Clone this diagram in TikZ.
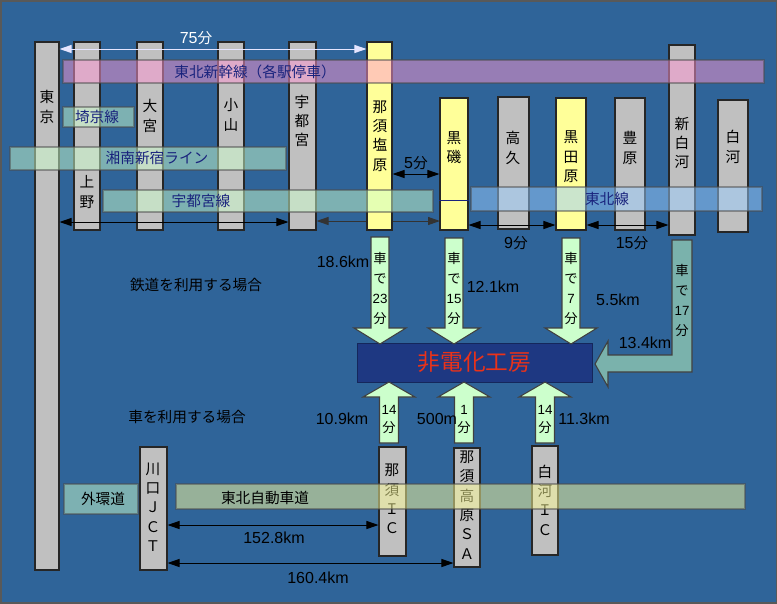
\documentclass[tikz,border=0pt]{standalone}
\usepackage{fontspec}
\setmainfont{Noto Sans CJK JP}
\newfontfamily\latin{Liberation Sans}
\usetikzlibrary{shapes,arrows,arrows.meta,positioning,fit,calc}

\definecolor{bgblue}{RGB}{47,100,153}
\definecolor{bargray}{RGB}{192,192,192}
\definecolor{baryellow}{RGB}{255,255,153}
\definecolor{linenavy}{RGB}{25,35,125}
\definecolor{mint}{RGB}{204,255,204}
\definecolor{shinkpink}{RGB}{255,150,210}
\definecolor{tohokublue}{RGB}{153,204,255}
\definecolor{roadyellow}{RGB}{255,255,153}
\definecolor{kobonavy}{RGB}{30,56,130}
\definecolor{kobored}{RGB}{235,50,25}
\definecolor{carteal}{RGB}{122,178,172}

\newcommand{\bun}{{\rmfamily\fontsize{11}{14}\selectfont 分}}

\begin{document}
\begin{tikzpicture}[
    x=0.75pt, y=-0.75pt,
    every node/.style={font=\fontsize{11}{14.5}\selectfont, inner sep=0pt},
    graybar/.style={draw=black!85, fill=bargray, line width=0.8pt},
    yellowbar/.style={draw=black!85, fill=baryellow, line width=0.8pt},
    band/.style={draw=black!70, fill=#1, opacity=0.5, line width=0.8pt},
    bandtxt/.style={text=linenavy},
    lbl/.style={align=center, text=black},
    cartxt/.style={align=center, font=\fontsize{10}{15}\selectfont},
    dist/.style={font=\latin\fontsize{12}{14}\selectfont},
    blk/.style={draw=black!75, fill=mint, line width=0.8pt},
    dim/.style={<->, >={Triangle[length=9pt,width=6pt]}, line width=0.75pt},
    kobo/.style={draw=kobonavy!70!black, fill=kobonavy, minimum width=176pt, minimum height=29pt, text=kobored, font=\fontsize{17}{20}\selectfont}
  ]
  \useasboundingbox (0,0) rectangle (777,603);
  \fill[bgblue] (0,0) rectangle (777,603);
  \draw[black!65, line width=1.5pt] (0.5,0.5) rectangle (776.5,602.5);

  % railway stations
  \node[graybar, fit={(35,42) (59,570)}] (tokyo) {};
  \node[graybar, fit={(74,42) (100,230)}] (ueno) {};
  \node[graybar, fit={(137,42) (163,230)}] (omiya) {};
  \node[graybar, fit={(218,42) (244,230)}] (oyama) {};
  \node[graybar, fit={(289,42) (316,230)}] (utsunomiya) {};
  \draw[dim, black!80] (utsunomiya.east |- 0,221) -- (440,221) coordinate (kuroisoW);
  \node[yellowbar, fit={(367,42) (392,230)}] (nasushiobara) {};
  \node[yellowbar, fit={(440,98) (468,230)}] (kuroiso) {};
  \node[graybar, fit={(498,97) (529,229)}] (takaku) {};
  \node[yellowbar, fit={(556,98) (586,230)}] (kurodahara) {};
  \node[graybar, fit={(615,98) (645,230)}] (toyohara) {};
  \node[graybar, fit={(669,45) (695,235)}] (shinshirakawa) {};
  \node[graybar, fit={(718,100) (748,232)}] (shirakawa) {};
  \draw[linenavy, line width=0.6pt] (kuroiso.west |- 0,200) -- (kuroiso.east |- 0,200);

  \node[lbl] (tokyoL) at (47,107) {東\\京};
  \node[lbl] (uenoL) at (87,192) {上\\野};
  \node[lbl] (omiyaL) at (150,116) {大\\宮};
  \node[lbl] (oyamaL) at (231,115) {小\\山};
  \node[lbl] (utsunomiyaL) at (302,121) {宇\\都\\宮};
  \node[lbl] (nasushiobaraL) at (380,136) {那\\須\\塩\\原};
  \node[lbl] (kuroisoL) at (454,148) {黒\\磯};
  \node[lbl] (takakuL) at (513,148) {高\\久};
  \node[lbl] (kurodaharaL) at (571,157) {黒\\田\\原};
  \node[lbl] (toyoharaL) at (630,148) {豊\\原};
  \node[lbl] (shinshirakawaL) at (682,143) {新\\白\\河};
  \node[lbl] (shirakawaL) at (733,147) {白\\河};

  % railway lines
  \node[band=shinkpink, fit={(63,60) (764,83)}] (shinkansen) {};
  \node[band=mint, fit={(63,107) (134,127)}] (saikyo) {};
  \node[band=mint, fit={(10,147) (286,170)}] (shonan) {};
  \node[band=mint, fit={(103,190) (433,212)}] (utsunomiyasen) {};
  \node[band=tohokublue, fit={(471,187) (762,211)}] (tohokusen) {};
  \node[bandtxt] (shinkansenL) at (255,72) {東北新幹線（各駅停車）};
  \node[bandtxt] (saikyoL) at (97,117) {埼京線};
  \node[bandtxt] (shonanL) at (157,158) {湘南新宿ライン};
  \node[bandtxt] (utsunomiyasenL) at (201,201) {宇都宮線};
  \node[bandtxt] (tohokusenL) at (607,199) {東北線};

  % travel times by train
  \draw[dim, white!90!blue] (tokyo.east |- 0,49) -- (nasushiobara.west |- 0,49);
  \node[text=white, dist] (t75) at (196,38) {75\bun};
  \draw[dim] (tokyo.east |- 0,222) -- (utsunomiya.west |- 0,222);
  \draw[dim] (nasushiobara.east |- 0,174) -- (kuroiso.west |- 0,174);
  \node[dist] (t5) at (416,163) {5\bun};
  \draw[dim] (kuroiso.east |- 0,225) -- (kurodahara.west |- 0,225);
  \node[dist] (t9) at (516,243) {9\bun};
  \draw[dim] (kurodahara.east |- 0,225) -- (shinshirakawa.west |- 0,225);
  \node[dist] (t15) at (632,243) {15\bun};

  % destination
  \node[kobo] (kobo) at (474.5,362.5) {非電化工房};

  % car from stations
  \foreach \x/\t in {380/237, 454/238, 571/238}
    \draw[blk] (\x-9,\t) -- (\x+9,\t) -- (\x+9,328) -- (\x+26,328) -- (\x,344)
      -- (\x-26,328) -- (\x-9,328) -- cycle;
  \draw[blk, fill=carteal] (672,240) -- (692,240) -- (692,372) -- (608,372) -- (608,387)
    -- (595,364) -- (608,341) -- (608,355) -- (672,355) -- cycle;
  \node[cartxt] (car23) at (380,288) {車\\で\\{\latin 23}\\分};
  \node[cartxt] (car15) at (454,288) {車\\で\\{\latin 15}\\分};
  \node[cartxt] (car7) at (571,288) {車\\で\\{\latin 7}\\分};
  \node[cartxt] (car17) at (682,300) {車\\で\\{\latin 17}\\分};
  \node[dist] (d186) at (343,262) {18.6km};
  \node[dist] (d121) at (493,287) {12.1km};
  \node[dist] (d55) at (618,300) {5.5km};
  \node[dist] (d134) at (645,343) {13.4km};
  \node (rail) at (196,285) {鉄道を利用する場合};
  \node (road) at (187,417) {車を利用する場合};

  % car from expressway
  \foreach \x in {389,464,545}
    \draw[blk] (\x-9.5,443) -- (\x+9.5,443) -- (\x+9.5,397) -- (\x+26,397) -- (\x,382)
      -- (\x-26,397) -- (\x-9.5,397) -- cycle;
  \node[cartxt, font=\fontsize{10}{13.5}\selectfont] (ic14a) at (389,419) {{\latin 14}\\分};
  \node[cartxt, font=\fontsize{10}{13.5}\selectfont] (sa1) at (464,419) {{\latin 1}\\分};
  \node[cartxt, font=\fontsize{10}{13.5}\selectfont] (ic14b) at (545,419) {{\latin 14}\\分};
  \node[dist] (d109) at (342,419) {10.9km};
  \node[dist] (d500) at (437,419) {500m};
  \node[dist] (d113) at (584,419) {11.3km};

  % expressway
  \node[graybar, fit={(140,447) (167,570)}] (kawaguchi) {};
  \node[graybar, fit={(379,447) (406,556)}] (nasuic) {};
  \node[graybar, fit={(454,448) (480,567)}] (nasusa) {};
  \node[graybar, fit={(532,446) (558,555)}] (shirakawaic) {};
  \node[lbl] (kawaguchiL) at (153,507) {川\\口\\Ｊ\\Ｃ\\Ｔ};
  \node[lbl] (nasuicL) at (392,499) {那\\須\\Ｉ\\Ｃ};
  \node[lbl] (nasusaL) at (467,505) {那\\須\\高\\原\\Ｓ\\Ａ};
  \node[lbl] (shirakawaicL) at (545,500) {白\\河\\Ｉ\\Ｃ};
  \node[band=mint, fit={(64,484) (138,514)}] (gaikan) {};
  \node[band=roadyellow, fit={(176,484) (745,509)}] (tohokudo) {};
  \node (gaikanL) at (103,499) {外環道};
  \node (tohokudoL) at (265,498) {東北自動車道};

  \draw[dim] (kawaguchi.east |- 0,525) -- (nasuic.west |- 0,525);
  \node[dist] (d1528) at (274,538) {152.8km};
  \draw[dim] (kawaguchi.east |- 0,563) -- (nasusa.west |- 0,563);
  \node[dist] (d1604) at (318,578) {160.4km};
\end{tikzpicture}
\end{document}
